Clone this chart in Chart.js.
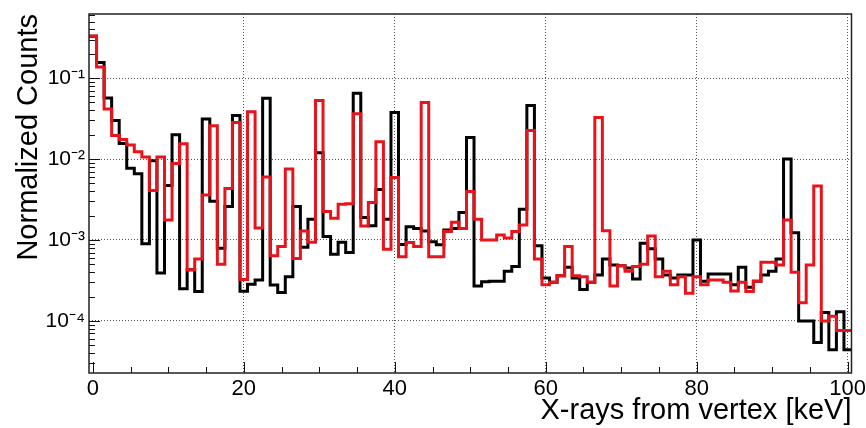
<!DOCTYPE html>
<html>
<head>
<meta charset="utf-8">
<script src="https://cdn.jsdelivr.net/npm/chart.js@4.4.1/dist/chart.umd.min.js"></script>
<style>
html,body{margin:0;padding:0;background:#ffffff;}
canvas{display:block;}
</style>
</head>
<body>
<canvas id="c" width="866" height="428"></canvas>
<script>
// Bin centres (keV), one bin per keV
const bins = [0,1,2,3,4,5,6,7,8,9,10,11,12,13,14,15,16,17,18,19,20,21,22,23,24,25,26,27,28,29,30,
  31,32,33,34,35,36,37,38,39,40,41,42,43,44,45,46,47,48,49,50,51,52,53,54,55,56,57,58,59,60,
  61,62,63,64,65,66,67,68,69,70,71,72,73,74,75,76,77,78,79,80,81,82,83,84,85,86,87,88,89,90,
  91,92,93,94,95,96,97,98,99,100];

// Black histogram
const blackCounts = [0.33,0.156,0.057,0.0300,0.0156,0.0077,0.0066,0.0009,0.0095,0.00039,
  0.0047,0.0200,0.00025,0.00043,0.00023,0.0312,0.0030,0.00079,0.0026,0.0345,
  0.000232,0.000283,0.00032,0.0563,0.000277,0.000225,0.000352,0.0026,0.00081,0.0018,
  0.012,0.0011,0.000665,0.00094,0.0007,0.0652,0.0019,0.0015,0.0042,0.0018,
  0.0376,0.00088,0.00146,0.00139,0.00129,0.00095,0.00087,0.00133,0.00139,0.00218,
  0.0185,0.00027,0.000305,0.00031,0.00031,0.00041,0.00047,0.0024,0.0459,0.00085,
  0.00034,0.0003,0.00036,0.00046,0.00034,0.000245,0.0003,0.00037,0.00058,0.00049,
  0.00048,0.00045,0.00033,0.00091,0.00078,0.00058,0.00037,0.00034,0.00037,0.00037,
  0.001,0.00031,0.00038,0.00038,0.00038,0.00028,0.00046,0.00026,0.00031,0.00037,
  0.00041,0.00058,0.0100,0.00123,0.0001,0.0001,0.000054,0.000127,0.000044,0.00013,
  0.000044];

// Red histogram
const redCounts = [0.332,0.137,0.0415,0.0196,0.0174,0.0149,0.0123,0.0106,0.0041,0.0106,
  0.00176,0.0088,0.0155,0.00043,0.00058,0.0036,0.0257,0.0005,0.00434,0.0283,
  0.000325,0.0385,0.00141,0.0060,0.00064,0.00083,0.00755,0.00059,0.00129,0.00094,
  0.053,0.00224,0.00185,0.00276,0.0028,0.0362,0.00149,0.0029,0.0164,0.00077,
  0.0059,0.00062,0.00093,0.00083,0.050,0.00062,0.00062,0.00127,0.00165,0.00139,
  0.00396,0.0018,0.001,0.001,0.00115,0.00106,0.00127,0.00153,0.0225,0.00058,
  0.00028,0.0003,0.00036,0.00083,0.00036,0.00035,0.0003,0.0326,0.0013,0.00027,
  0.00048,0.00041,0.00047,0.0005,0.00112,0.00035,0.00041,0.00028,0.00035,0.00022,
  0.00035,0.00028,0.00032,0.00032,0.0003,0.000234,0.0003,0.00023,0.00031,0.00053,
  0.00053,0.00049,0.00177,0.0004,0.000167,0.00049,0.00466,0.0001,0.000114,0.000076,
  0.000076];

const xTickValues = [0,20,40,60,80,100];
const xTickLabels = ['0','20','40','60','80','100'];
const yTickValues = [1e-4,1e-3,1e-2,1e-1];
const yTickLabels = ['10\u207B\u2074','10\u207B\u00B3','10\u207B\u00B2','10\u207B\u00B9'];

const binWidth = 1;

// Build step-histogram points from bin edges
function toSteps(values) {
  const pts = bins.map((b, i) => ({x: b - binWidth / 2, y: values[i]}));
  pts.push({x: bins[bins.length - 1] + binWidth / 2, y: values[values.length - 1]});
  return pts;
}

const FONT = "'Liberation Sans', Arial, Helvetica, sans-serif";
Chart.defaults.font.family = FONT;
Chart.defaults.color = '#000';

const frameTicks = {
  id: 'frameTicks',
  afterDraw(chart) {
    const {ctx, chartArea: a, scales: {x, y}} = chart;
    ctx.save();
    ctx.strokeStyle = '#111';
    ctx.lineWidth = 1;
    for (let v = 0; v <= 100; v += 5) {
      const px = Math.round(x.getPixelForValue(v)) + 0.5;
      const len = (v % 20 === 0) ? 11 : 6;
      ctx.beginPath(); ctx.moveTo(px, a.bottom); ctx.lineTo(px, a.bottom - len); ctx.stroke();
    }
    for (let e = -5; e <= 0; e++) {
      for (let m = 1; m <= 9; m++) {
        const v = m * Math.pow(10, e);
        if (v < y.min || v > y.max) continue;
        const py = Math.round(y.getPixelForValue(v)) + 0.5;
        const len = (m === 1) ? 11 : 6;
        ctx.beginPath(); ctx.moveTo(a.left, py); ctx.lineTo(a.left + len, py); ctx.stroke();
      }
    }
    ctx.lineWidth = 1.5;
    ctx.strokeStyle = '#222';
    ctx.strokeRect(a.left, a.top, a.right - a.left, a.bottom - a.top);
    ctx.restore();
  }
};

new Chart(document.getElementById('c'), {
  type: 'line',
  data: {
    datasets: [
      {
        label: 'black',
        data: toSteps(blackCounts),
        borderColor: '#000000',
        borderWidth: 3,
        stepped: 'before',
        pointRadius: 0,
        fill: false,
        order: 2,
        borderJoinStyle: 'miter',
        borderCapStyle: 'butt'
      },
      {
        label: 'red',
        data: toSteps(redCounts),
        borderColor: '#e8141c',
        borderWidth: 3,
        stepped: 'before',
        pointRadius: 0,
        fill: false,
        order: 1,
        borderJoinStyle: 'miter',
        borderCapStyle: 'butt'
      }
    ]
  },
  options: {
    responsive: false,
    animation: false,
    events: [],
    layout: {padding: {top: 14, right: 14.5, left: 0, bottom: 0}},
    plugins: {legend: {display: false}, tooltip: {enabled: false}, title: {display: false}},
    scales: {
      x: {
        type: 'linear',
        min: -0.5,
        max: 100.5,
        afterBuildTicks: s => { s.ticks = xTickValues.map(v => ({value: v})); },
        afterFit: s => { s.height = 55; s.paddingLeft = 0; s.paddingRight = 0; },
        ticks: {
          autoSkip: false, maxRotation: 0, padding: 3,
          font: {size: 22}, color: '#000',
          callback: (v, i) => xTickLabels[i]
        },
        grid: {
          drawTicks: false,
          lineWidth: 1,
          color: c => (c.tick && c.tick.value === 0) ? 'rgba(0,0,0,0)' : '#555'
        },
        border: {display: false, dash: [1, 2]},
        title: {
          display: true, text: 'X-rays from vertex [keV]', align: 'end',
          font: {size: 29}, color: '#000', padding: {top: 0, bottom: 0}
        }
      },
      y: {
        type: 'logarithmic',
        min: 2.27e-5,
        max: 0.62,
        afterBuildTicks: s => { s.ticks = yTickValues.map(v => ({value: v})); },
        afterFit: s => { s.width = 89; s.paddingTop = 0; s.paddingBottom = 0; },
        ticks: {
          autoSkip: false, padding: 4,
          font: {size: 21}, color: '#000',
          callback: (v, i) => yTickLabels[i]
        },
        grid: {drawTicks: false, lineWidth: 1, color: '#555'},
        border: {display: false, dash: [1, 2]},
        title: {
          display: true, text: 'Normalized Counts', align: 'end',
          font: {size: 29}, color: '#000', padding: {top: 12, bottom: 0}
        }
      }
    }
  },
  plugins: [frameTicks]
});
</script>
</body>
</html>
